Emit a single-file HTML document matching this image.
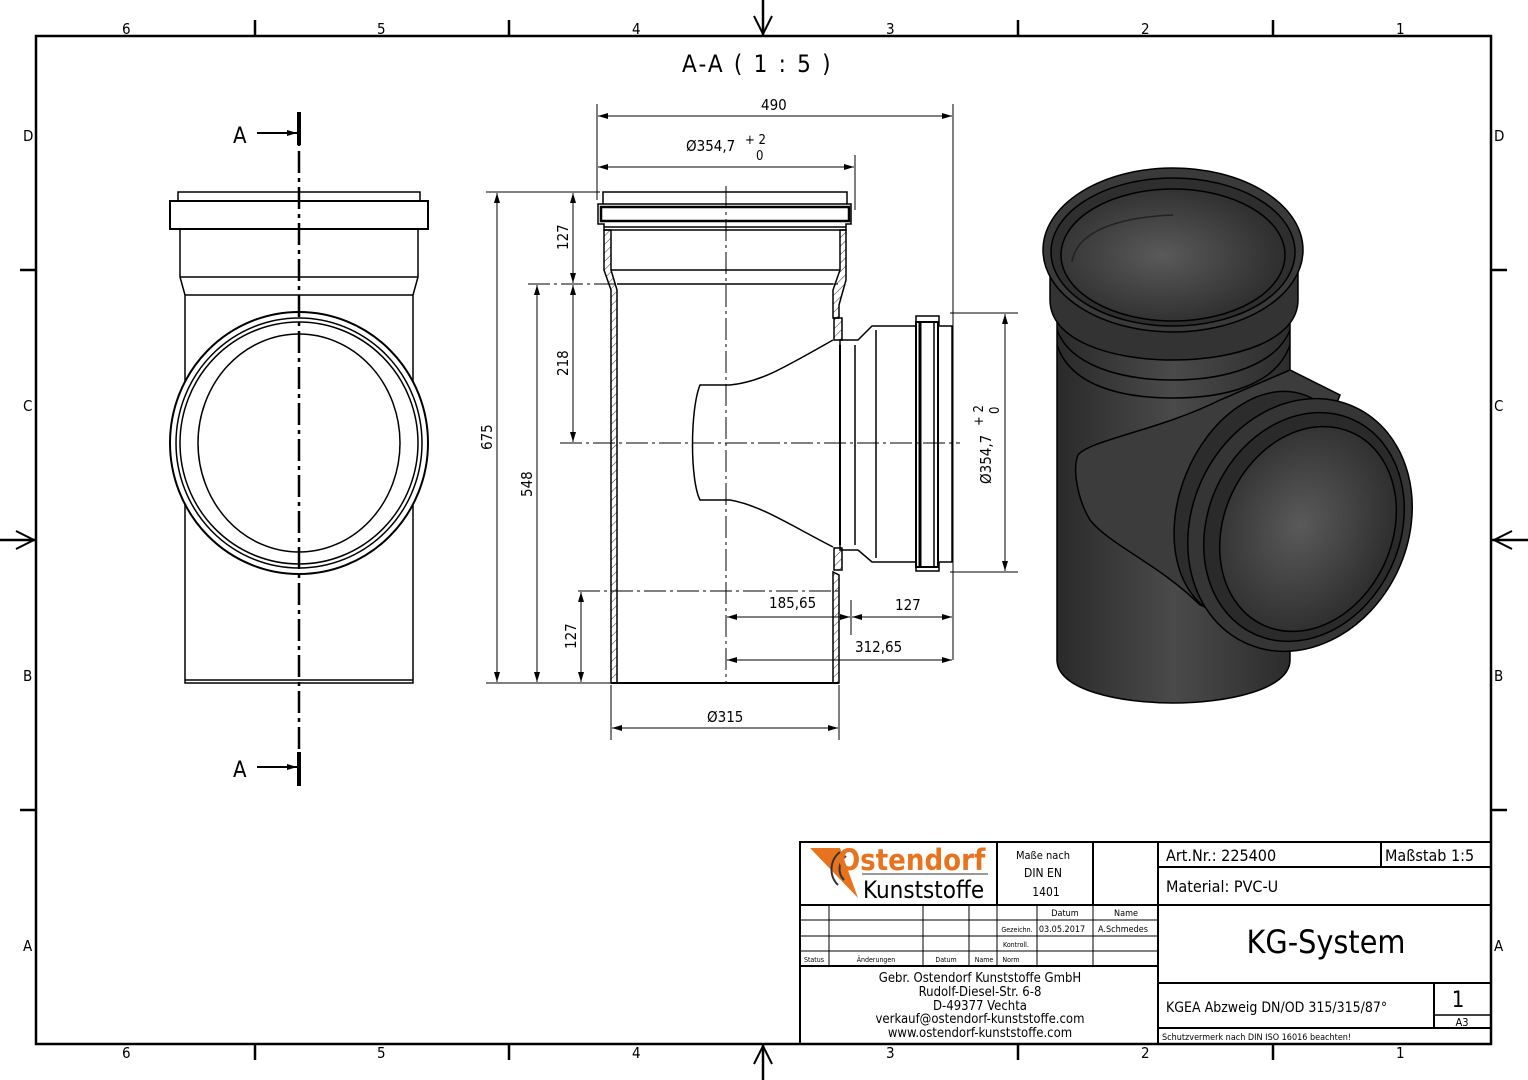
<!DOCTYPE html>
<html><head><meta charset="utf-8"><style>
html,body{margin:0;padding:0;background:#fff}
svg{display:block}
text{font-family:"DejaVu Sans Condensed","DejaVu Sans","Liberation Sans",sans-serif;fill:#000}
</style></head><body>
<svg width="1528" height="1080" viewBox="0 0 1528 1080" xmlns="http://www.w3.org/2000/svg">
<defs>
<marker id="ar" viewBox="0 0 10 6" refX="10" refY="3" markerWidth="10" markerHeight="6" orient="auto-start-reverse" markerUnits="userSpaceOnUse"><path d="M0,0L10,3L0,6z"/></marker>
<pattern id="hatch" width="6" height="6" patternUnits="userSpaceOnUse" patternTransform="rotate(45)"><line x1="0" y1="0" x2="0" y2="6" stroke="#000" stroke-width="0.8"/></pattern>
<radialGradient id="g1" cx="0.45" cy="0.5" r="0.6"><stop offset="0" stop-color="#5a5a5a"/><stop offset="1" stop-color="#2a2a2a"/></radialGradient>
<linearGradient id="gb" x1="0" x2="1"><stop offset="0" stop-color="#2a2a2a"/><stop offset="0.5" stop-color="#4a4a4a"/><stop offset="1" stop-color="#2c2c2c"/></linearGradient>
</defs>
<rect x="36" y="36" width="1455" height="1008" fill="none" stroke="#000" stroke-width="2.5"/>
<g stroke="#000" stroke-width="2.5">
<line x1="255" y1="20" x2="255" y2="36"/><line x1="509" y1="20" x2="509" y2="36"/><line x1="1018" y1="20" x2="1018" y2="36"/><line x1="1273" y1="20" x2="1273" y2="36"/>
<line x1="255" y1="1044" x2="255" y2="1060"/><line x1="509" y1="1044" x2="509" y2="1060"/><line x1="1018" y1="1044" x2="1018" y2="1060"/><line x1="1273" y1="1044" x2="1273" y2="1060"/>
<line x1="20" y1="270" x2="36" y2="270"/><line x1="20" y1="810" x2="36" y2="810"/>
<line x1="1491" y1="270" x2="1507" y2="270"/><line x1="1491" y1="810" x2="1507" y2="810"/>
<line x1="763" y1="0" x2="763" y2="36"/><line x1="763" y1="1044" x2="763" y2="1080"/>
<line x1="0" y1="540" x2="36" y2="540"/><line x1="1491" y1="540" x2="1528" y2="540"/>
</g>
<g fill="none" stroke="#000" stroke-width="2">
<path d="M754,16L763,34L772,16"/><path d="M754,1064L763,1046L772,1064"/>
<path d="M16,531L34,540L16,549"/><path d="M1512,531L1494,540L1512,549"/>
</g>
<g font-size="15">
<text x="122" y="34">6</text><text x="377" y="34">5</text><text x="632" y="34">4</text><text x="886" y="34">3</text><text x="1141" y="34">2</text><text x="1396" y="34">1</text>
<text x="122" y="1058">6</text><text x="377" y="1058">5</text><text x="632" y="1058">4</text><text x="886" y="1058">3</text><text x="1141" y="1058">2</text><text x="1396" y="1058">1</text>
<text x="23" y="141">D</text><text x="23" y="411">C</text><text x="23" y="681">B</text><text x="23" y="951">A</text>
<text x="1494" y="141">D</text><text x="1494" y="411">C</text><text x="1494" y="681">B</text><text x="1494" y="951">A</text>
</g>
<text x="682" y="72" font-size="24" letter-spacing="2.2">A-A ( 1 : 5 )</text>

<g fill="none" stroke="#000" stroke-width="1.5">
<rect x="178" y="192" width="242" height="9"/>
<rect x="170" y="201" width="258" height="28" stroke-width="2"/>
<path d="M180,229V277L185,295V683H413V295L418,277V229"/>
<line x1="180" y1="277" x2="418" y2="277"/><line x1="185" y1="295" x2="413" y2="295"/>
<line x1="185" y1="680" x2="413" y2="680"/>
<ellipse cx="299" cy="443" rx="129" ry="131" fill="#fff" stroke-width="2"/>
<ellipse cx="299" cy="443" rx="123" ry="125"/>
<ellipse cx="299" cy="443" rx="119" ry="121"/>
<ellipse cx="299" cy="443" rx="101" ry="109"/>
</g>
<line x1="299" y1="115" x2="299" y2="785" stroke="#000" stroke-width="2.5" stroke-dasharray="22,5,4,5"/>
<line x1="299" y1="112" x2="299" y2="145" stroke="#000" stroke-width="4"/>
<line x1="299" y1="752" x2="299" y2="786" stroke="#000" stroke-width="4"/>
<line x1="257" y1="133" x2="297" y2="133" stroke="#000" stroke-width="2" marker-end="url(#ar)"/>
<line x1="257" y1="767" x2="297" y2="767" stroke="#000" stroke-width="2" marker-end="url(#ar)"/>
<text x="233" y="143" font-size="22">A</text><text x="233" y="777" font-size="22">A</text>

<g fill="none" stroke="#000" stroke-width="1.5">
<path d="M604,230V270L611,290V683H617V290L611,270V230Z" fill="url(#hatch)"/>
<path d="M839,575V683H833V572Z" fill="url(#hatch)"/>
<path d="M846,230V280L839,305V318L833,318V290L840,270V230Z" fill="url(#hatch)"/>
<path d="M603,192H847V204H851V224H846V230H604V224H598V204H603Z"/>
<rect x="601" y="207" width="248" height="14" stroke-width="2.5"/>
<line x1="603" y1="204" x2="847" y2="204"/><line x1="604" y1="227" x2="846" y2="227"/>
<line x1="611" y1="270" x2="840" y2="270"/>
<line x1="617" y1="284" x2="833" y2="284"/>
<line x1="611" y1="683" x2="839" y2="683" stroke-width="2"/>
<path d="M833,340C780,370 760,382 730,385L700,385C690,410 690,480 700,500L730,500C760,505 790,525 833,547"/>
<path d="M840,340H858L872,326H916V316H939V326H952V562H939V571H916V562H872L858,550H840Z" fill="#fff"/>
<rect x="916" y="322" width="22" height="245" stroke-width="2"/>
<line x1="920" y1="322" x2="920" y2="567" stroke-width="3"/>
<line x1="934" y1="322" x2="934" y2="567"/>
<line x1="840" y1="345" x2="840" y2="545" stroke-width="2"/>
<line x1="855" y1="345" x2="855" y2="545"/>
<line x1="876" y1="330" x2="876" y2="558"/>
<rect x="834" y="318" width="8" height="22" fill="url(#hatch)"/>
<rect x="834" y="548" width="8" height="22" fill="url(#hatch)"/>
</g>
<g stroke="#000" stroke-width="1" stroke-dasharray="22,4,3,4" fill="none">
<line x1="726" y1="186" x2="726" y2="683"/>
<line x1="528" y1="284" x2="838" y2="284"/>
<line x1="578" y1="591" x2="838" y2="591"/>
<line x1="560" y1="443" x2="960" y2="443"/>
</g>
<g stroke="#000" stroke-width="1" fill="none">
<line x1="597" y1="104" x2="597" y2="200"/><line x1="953" y1="104" x2="953" y2="660"/><line x1="855" y1="155" x2="855" y2="210"/>
<line x1="598" y1="116" x2="952" y2="116" marker-start="url(#ar)" marker-end="url(#ar)"/>
<line x1="598" y1="167" x2="854" y2="167" marker-start="url(#ar)" marker-end="url(#ar)"/>
<line x1="486" y1="192" x2="600" y2="192"/><line x1="486" y1="683" x2="612" y2="683"/>
<line x1="497" y1="193" x2="497" y2="682" marker-start="url(#ar)" marker-end="url(#ar)"/>
<line x1="537" y1="285" x2="537" y2="682" marker-start="url(#ar)" marker-end="url(#ar)"/>
<line x1="573" y1="193" x2="573" y2="283" marker-start="url(#ar)" marker-end="url(#ar)"/>
<line x1="573" y1="285" x2="573" y2="442" marker-start="url(#ar)" marker-end="url(#ar)"/>
<line x1="581" y1="592" x2="581" y2="682" marker-start="url(#ar)" marker-end="url(#ar)"/>
<line x1="611" y1="685" x2="611" y2="740"/><line x1="839" y1="685" x2="839" y2="740"/>
<line x1="612" y1="728" x2="838" y2="728" marker-start="url(#ar)" marker-end="url(#ar)"/>
<line x1="727" y1="617" x2="850" y2="617" marker-start="url(#ar)" marker-end="url(#ar)"/>
<line x1="852" y1="617" x2="952" y2="617" marker-start="url(#ar)" marker-end="url(#ar)"/>
<line x1="851" y1="600" x2="851" y2="635"/>
<line x1="727" y1="660" x2="952" y2="660" marker-start="url(#ar)" marker-end="url(#ar)"/>
<line x1="950" y1="313" x2="1018" y2="313"/><line x1="950" y1="572" x2="1018" y2="572"/>
<line x1="1005" y1="314" x2="1005" y2="571" marker-start="url(#ar)" marker-end="url(#ar)"/>
</g>
<g font-size="15">
<text x="761" y="110">490</text>
<text x="686" y="151">Ø354,7</text><text x="745" y="144" font-size="13">+ 2</text><text x="756" y="160" font-size="13">0</text>
<text x="769" y="608">185,65</text><text x="895" y="610">127</text><text x="855" y="652">312,65</text>
<text x="707" y="722">Ø315</text>
<text transform="translate(492,450) rotate(-90)">675</text>
<text transform="translate(532,497) rotate(-90)">548</text>
<text transform="translate(568,250) rotate(-90)">127</text>
<text transform="translate(568,376) rotate(-90)">218</text>
<text transform="translate(576,649) rotate(-90)">127</text>
<text transform="translate(991,484) rotate(-90)">Ø354,7</text>
<text transform="translate(983,426) rotate(-90)" font-size="13">+ 2</text>
<text transform="translate(999,414) rotate(-90)" font-size="13">0</text>
</g>

<g stroke="#000" stroke-width="1.5">
<path d="M1057,290V660C1057,690 1120,703 1173,703C1226,703 1290,690 1290,660V290Z" fill="url(#gb)"/>
<path d="M1050,255V300C1050,340 1110,360 1173,360C1236,360 1298,340 1298,300V255Z" fill="#333"/>
<path d="M1057,330C1070,365 1120,380 1173,380C1226,380 1276,365 1290,330" fill="none"/>
<path d="M1057,345C1070,385 1120,398 1173,398C1226,398 1276,385 1290,345" fill="none"/>
<ellipse cx="1173" cy="250" rx="130" ry="82" fill="#3a3a3a"/>
<ellipse cx="1173" cy="252" rx="122" ry="74" fill="#2e2e2e"/>
<ellipse cx="1173" cy="255" rx="112" ry="66" fill="url(#g1)"/>
<path d="M1173,215C1100,218 1075,240 1072,262" fill="none" stroke="#222"/>
<path d="M1078,455C1090,440 1160,430 1220,400L1290,370L1340,395L1250,625L1200,605C1160,565 1110,545 1090,520C1078,500 1072,470 1078,455Z" fill="#3c3c3c"/>
<ellipse cx="1262" cy="505" rx="82" ry="118" transform="rotate(22 1262 505)" fill="#2c2c2c"/>
<ellipse cx="1300" cy="525" rx="108" ry="130" transform="rotate(25 1300 525)" fill="#353535"/>
<ellipse cx="1304" cy="527" rx="96" ry="118" transform="rotate(25 1304 527)" fill="#2a2a2a"/>
<ellipse cx="1308" cy="529" rx="84" ry="106" transform="rotate(25 1308 529)" fill="url(#g1)"/>
</g>

<g fill="none" stroke="#000" stroke-width="2">
<rect x="800" y="842" width="691" height="202"/>
<line x1="1158" y1="842" x2="1158" y2="1044"/>
<line x1="800" y1="905" x2="1158" y2="905"/>
<line x1="800" y1="966" x2="1158" y2="966"/>
<line x1="997" y1="842" x2="997" y2="905"/><line x1="1093" y1="842" x2="1093" y2="905"/>
<line x1="1158" y1="867" x2="1491" y2="867"/><line x1="1158" y1="905" x2="1491" y2="905"/>
<line x1="1158" y1="983" x2="1491" y2="983"/><line x1="1158" y1="1028" x2="1491" y2="1028"/>
<line x1="1381" y1="842" x2="1381" y2="867"/>
<line x1="1434" y1="983" x2="1434" y2="1028"/><line x1="1434" y1="1015" x2="1491" y2="1015" stroke-width="1.5"/>
</g>
<g stroke="#000" stroke-width="1" fill="none">
<line x1="800" y1="920" x2="1158" y2="920"/><line x1="800" y1="936" x2="1158" y2="936"/><line x1="800" y1="951" x2="1158" y2="951"/>
<line x1="829" y1="905" x2="829" y2="966"/><line x1="923" y1="905" x2="923" y2="966"/><line x1="969" y1="905" x2="969" y2="966"/>
<line x1="997" y1="905" x2="997" y2="966"/><line x1="1037" y1="905" x2="1037" y2="966"/><line x1="1093" y1="905" x2="1093" y2="966"/>
</g>
<path d="M810,848H840L858,898Z" fill="#e8731e"/>
<g fill="none" stroke="#333" stroke-width="2"><path d="M840,852A22,22 0 0 0 838,885"/><path d="M846,856A16,16 0 0 0 844,880"/></g>
<text x="838" y="870" font-family="Liberation Sans" font-size="29" font-weight="bold" style="fill:#e8731e">Ostendorf</text>
<line x1="862" y1="874" x2="988" y2="874" stroke="#333" stroke-width="1"/>
<text x="863" y="898" font-family="Liberation Sans" font-size="24">Kunststoffe</text>
<g font-size="11" text-anchor="middle">
<text x="1043" y="859">Maße nach</text><text x="1043" y="877" font-size="12">DIN EN</text><text x="1046" y="896" font-size="12">1401</text>
<text x="1065" y="916" font-size="9">Datum</text><text x="1126" y="916" font-size="9">Name</text>
<text x="1017" y="932" font-size="7">Gezeichn.</text><text x="1062" y="932" font-size="9">03.05.2017</text><text x="1123" y="932" font-size="9">A.Schmedes</text>
<text x="1016" y="947" font-size="7">Kontroll.</text><text x="1011" y="962" font-size="7">Norm</text>
<text x="814" y="962" font-size="7">Status</text><text x="876" y="962" font-size="7">Änderungen</text><text x="946" y="962" font-size="7">Datum</text><text x="984" y="962" font-size="7">Name</text>
<text x="980" y="982" font-size="13">Gebr. Ostendorf Kunststoffe GmbH</text>
<text x="980" y="996" font-size="13">Rudolf-Diesel-Str. 6-8</text>
<text x="980" y="1010" font-size="13">D-49377 Vechta</text>
<text x="980" y="1023" font-size="13">verkauf@ostendorf-kunststoffe.com</text>
<text x="980" y="1037" font-size="13">www.ostendorf-kunststoffe.com</text>
</g>
<text x="1166" y="861" font-size="16">Art.Nr.: 225400</text>
<text x="1385" y="861" font-size="16">Maßstab 1:5</text>
<text x="1166" y="892" font-size="16">Material: PVC-U</text>
<text x="1326" y="953" font-size="32" text-anchor="middle">KG-System</text>
<text x="1166" y="1012" font-size="14">KGEA Abzweig DN/OD 315/315/87°</text>
<text x="1458" y="1007" font-size="22" text-anchor="middle">1</text>
<text x="1462" y="1026" font-size="11" text-anchor="middle">A3</text>
<text x="1162" y="1040" font-size="9">Schutzvermerk nach DIN ISO 16016 beachten!</text>
</svg>
</body></html>
